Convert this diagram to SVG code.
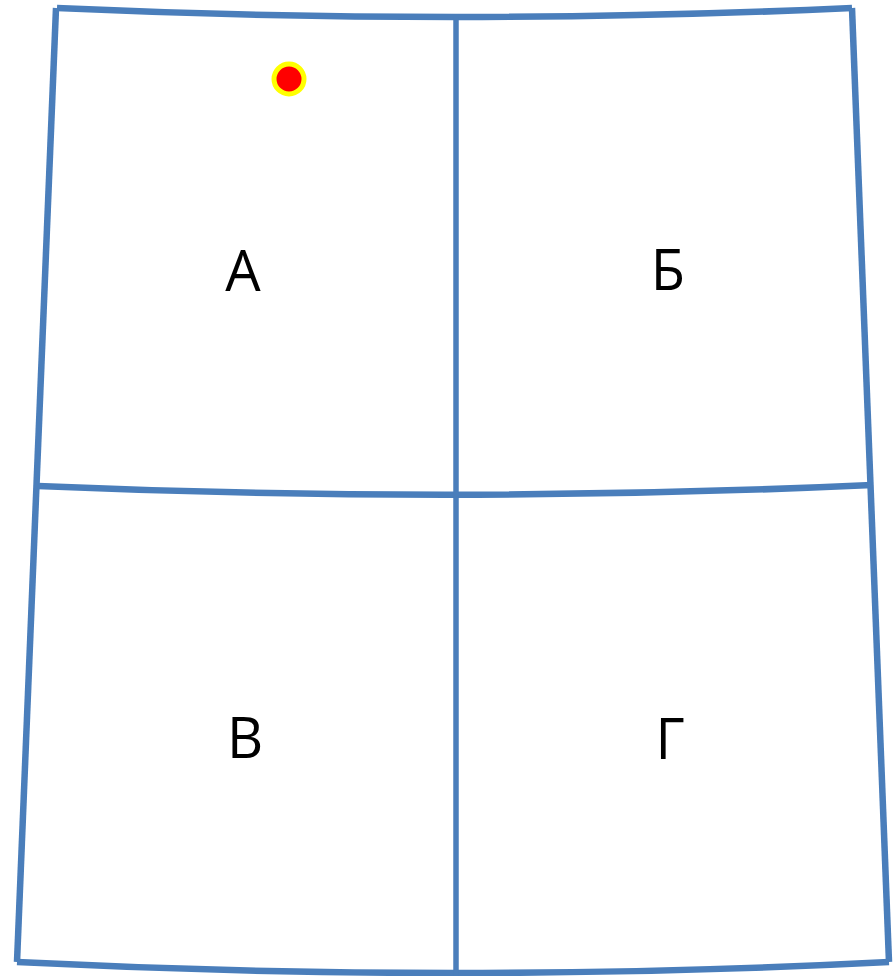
<svg xmlns="http://www.w3.org/2000/svg" width="895" height="976" viewBox="0 0 895 976">
<style>
.ln{fill:none;stroke:#4A7EBB;stroke-width:6.5;stroke-linecap:butt;stroke-linejoin:miter}
.mid{stroke-width:5.5}
.lbl{font-family:"Open Sans","Noto Sans","Liberation Sans",sans-serif;font-size:56px;fill:#000;text-anchor:middle}
</style>
<rect width="895" height="976" fill="#fff"/>
<g id="connectors">
<path class="ln" d="M57,8 Q456,26 852,8"/>
<path class="ln" d="M56,8 L17,962"/>
<path class="ln" d="M852,8 L889,962"/>
<path class="ln" d="M38,486 Q456,504 872,485"/>
<path class="ln" d="M17,962 Q456,984 889,962"/>
<path class="ln mid" d="M456,17 L456,976"/>
</g>
<g id="region-a"><text class="lbl" x="243" y="291">А</text></g>
<g id="region-b"><text class="lbl" x="668" y="290">Б</text></g>
<g id="region-v"><text class="lbl" x="245" y="758">В</text></g>
<g id="region-g"><text class="lbl" x="670" y="759">Г</text></g>
<g id="marker-dot"><circle cx="289" cy="79" r="15" fill="#FF0000" stroke="#FFFF00" stroke-width="5"/></g>
</svg>
